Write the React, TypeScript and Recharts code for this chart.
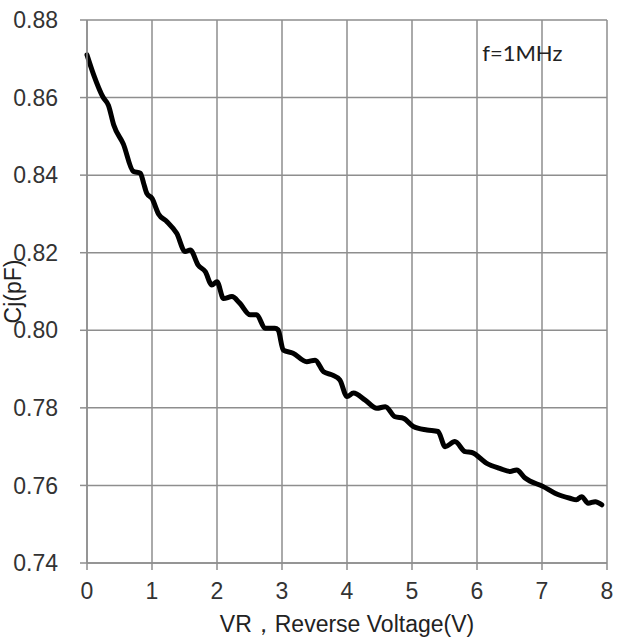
import React from "react";
import {
  LineChart,
  Line,
  XAxis,
  YAxis,
  CartesianGrid,
  ReferenceDot,
} from "recharts";

// values (VR in volts, Cj in pF)
const voltage = [
  0.0, 0.1, 0.25, 0.33, 0.41, 0.56, 0.71, 0.82, 0.87, 0.92, 1.0, 1.1, 1.23,
  1.38, 1.51, 1.59, 1.71, 1.82, 1.92, 2.0, 2.1, 2.23, 2.35, 2.51, 2.61, 2.74,
  2.89, 2.94, 3.02, 3.17, 3.38, 3.51, 3.64, 3.77, 3.89, 4.0, 4.1, 4.28, 4.46,
  4.59, 4.74, 4.87, 5.02, 5.23, 5.4, 5.51, 5.66, 5.82, 5.92, 6.15, 6.35, 6.51,
  6.61, 6.74, 7.02, 7.2, 7.43, 7.53, 7.61, 7.71, 7.82, 7.92,
];
const capacitance = [
  0.871, 0.866, 0.86, 0.858, 0.853, 0.848, 0.841, 0.8405, 0.838, 0.8353, 0.834,
  0.83, 0.828, 0.825, 0.8203, 0.8207, 0.8168, 0.8151, 0.8117, 0.8125, 0.8082,
  0.8087, 0.807, 0.804, 0.804, 0.8005, 0.8005, 0.8001, 0.7949, 0.7941, 0.7919,
  0.7923, 0.7893, 0.7885, 0.7872, 0.7829, 0.7838, 0.782, 0.7799, 0.7803,
  0.7777, 0.7773, 0.7752, 0.7743, 0.7739, 0.77, 0.7713, 0.7687, 0.7685,
  0.7657, 0.7644, 0.7636, 0.764, 0.7619, 0.7597, 0.758, 0.7567, 0.7563,
  0.7571, 0.7554, 0.7558, 0.755,
];

const xTicks = [0, 1, 2, 3, 4, 5, 6, 7, 8];
const yTicks = [0.74, 0.76, 0.78, 0.8, 0.82, 0.84, 0.86, 0.88];

const freqNote = "f=1MHz";
const xTitle = "VR，Reverse Voltage(V)";
const yTitle = "Cj(pF)";

const GRID = "#8e8e8e";
const FONT = "'Liberation Sans', Arial, sans-serif";

export default function App() {
  const data = voltage.map((v, i) => ({ vr: v, cj: capacitance[i] }));

  return (
    <div style={{ position: "absolute", left: 0, top: 0, background: "#fff" }}>
      <LineChart
        width={617}
        height={641}
        data={data}
        margin={{ top: 20, right: 10, bottom: 0, left: 0 }}
      >
        <CartesianGrid stroke={GRID} strokeWidth={1.5} />
        <XAxis
          dataKey="vr"
          type="number"
          domain={[0, 8]}
          ticks={xTicks}
          height={78}
          tickSize={7}
          tickMargin={13}
          stroke={GRID}
          strokeWidth={1.5}
          tick={{ fill: "#333", fontSize: 23, fontFamily: FONT }}
          label={{
            value: xTitle,
            content: ({ viewBox }: any) => (
              <text
                x={viewBox.x + viewBox.width / 2}
                y={632}
                textAnchor="middle"
                fill="#222"
                fontSize={23}
                fontFamily={FONT}
              >
                {xTitle}
              </text>
            ),
          }}
        />
        <YAxis
          type="number"
          domain={[0.74, 0.88]}
          ticks={yTicks}
          width={87}
          tickSize={7}
          tickMargin={22}
          stroke={GRID}
          strokeWidth={1.5}
          tickFormatter={(v: number) => v.toFixed(2)}
          tick={{ fill: "#333", fontSize: 23, fontFamily: FONT }}
          label={{
            value: yTitle,
            content: ({ viewBox }: any) => {
              const x = viewBox.x + 13;
              const y = viewBox.y + viewBox.height / 2;
              return (
                <text
                  x={x}
                  y={y}
                  transform={`rotate(-90 ${x} ${y})`}
                  textAnchor="middle"
                  dominantBaseline="central"
                  fill="#222"
                  fontSize={23}
                  fontFamily={FONT}
                >
                  {yTitle}
                </text>
              );
            },
          }}
        />
        <Line
          type="monotone"
          dataKey="cj"
          stroke="#000"
          strokeWidth={5}
          strokeLinejoin="round"
          strokeLinecap="round"
          dot={false}
          isAnimationActive={false}
        />
        <ReferenceDot
          x={6.08}
          y={0.8715}
          r={0}
          stroke="none"
          fill="none"
          label={{
            value: freqNote,
            position: "right",
            offset: 0,
            fill: "#222",
            fontSize: 22,
            fontFamily: "Lato, 'Open Sans', sans-serif",
          }}
        />
      </LineChart>
    </div>
  );
}
